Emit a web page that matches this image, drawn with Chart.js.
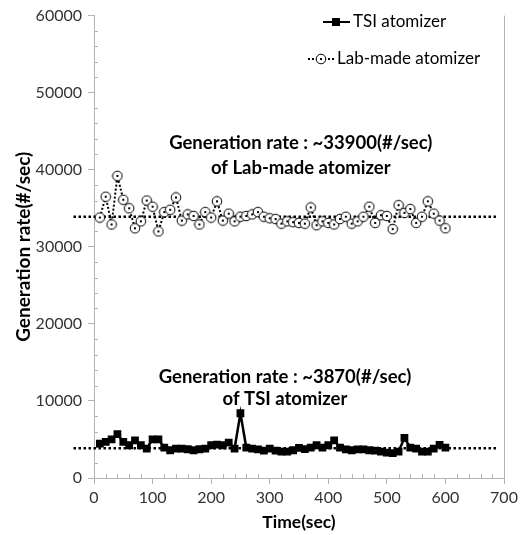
<!DOCTYPE html>
<html>
<head>
<meta charset="utf-8">
<script src="https://cdn.jsdelivr.net/npm/chart.js@4/dist/chart.umd.min.js"></script>
<style>
  body { margin: 0; background: #fff; }
  canvas { display: block; }
</style>
</head>
<body>
<canvas id="grafico" width="526" height="535"></canvas>
<script>
// tiempos de medicion (sec)
const tiempos = [10, 20, 30, 40, 50, 60, 70, 80, 90, 100,
    110, 120, 130, 140, 150, 160, 170, 180, 190, 200,
    210, 220, 230, 240, 250, 260, 270, 280, 290, 300,
    310, 320, 330, 340, 350, 360, 370, 380, 390, 400,
    410, 420, 430, 440, 450, 460, 470, 480, 490, 500,
    510, 520, 530, 540, 550, 560, 570, 580, 590, 600];

const tsiAtomizer = [4460, 4680, 5020, 5700, 4680, 4250, 4890, 4250, 3820, 5020,
    5020, 3950, 3600, 3820, 3820, 3730, 3600, 3730, 3820, 4250,
    4330, 4250, 4590, 3820, 8400, 3950, 3820, 3700, 3560, 3820,
    3560, 3430, 3430, 3600, 3900, 3750, 3950, 4250, 3950, 4250,
    4890, 3950, 3700, 3600, 3700, 3700, 3600, 3560, 3430, 3300,
    3220, 3430, 5200, 3950, 3820, 3430, 3430, 3820, 4300, 3950];

const labAtomizer = [33800, 36500, 32900, 39200, 36100, 35000, 32400, 33300, 36000, 35200,
    32000, 34500, 34800, 36400, 33400, 34200, 34000, 32900, 34500, 33800,
    35900, 33400, 34300, 33300, 33900, 34000, 34200, 34500, 33900, 33700,
    33600, 33000, 33300, 33200, 33100, 33000, 35100, 32800, 33300, 33100,
    32900, 33600, 33900, 33000, 33300, 33900, 35200, 33100, 34100, 34000,
    32300, 35400, 34400, 34900, 33100, 33900, 35900, 34300, 33400, 32400];

// promedios (lineas punteadas)
const promedioLab = 33900;
const promedioTsi = 3870;
const rangoPromedio = [-35, 690];

const ticksY = [0, 10000, 20000, 30000, 40000, 50000, 60000];
const ticksX = [0, 100, 200, 300, 400, 500, 600, 700];

const FUENTE = 'Lato, "Open Sans", sans-serif';
const GRIS = '#b3b3b3';

function puntos(xs, ys) {
    return xs.map(function (x, i) { return { x: x, y: ys[i] }; });
}

// marcador circular con punto central
function marcadorCirculo() {
    const c = document.createElement('canvas');
    c.width = 12; c.height = 12;
    const g = c.getContext('2d');
    g.beginPath();
    g.arc(6, 6, 4.8, 0, Math.PI * 2);
    g.fillStyle = '#fff';
    g.fill();
    g.lineWidth = 1;
    g.strokeStyle = '#000';
    g.stroke();
    g.fillStyle = '#000';
    g.fillRect(5, 5, 2, 2);
    return c;
}
const circulo = marcadorCirculo();

// ticks menores, borde, leyenda y textos
const extras = {
    id: 'extras',
    beforeDatasetsDraw(chart) {
        const ctx = chart.ctx;
        const a = chart.chartArea;
        const sx = chart.scales.x, sy = chart.scales.y;
        ctx.save();
        ctx.strokeStyle = GRIS;
        ctx.lineWidth = 1;
        ctx.beginPath();
        for (let v = 0; v <= 60000; v += 2000) {
            if (v % 10000 === 0) continue;
            const py = Math.round(sy.getPixelForValue(v)) + 0.5;
            ctx.moveTo(a.left, py); ctx.lineTo(a.left + 4, py);
        }
        for (let t = 0; t <= 700; t += 20) {
            if (t % 100 === 0) continue;
            const px = Math.round(sx.getPixelForValue(t)) + 0.5;
            ctx.moveTo(px, a.bottom); ctx.lineTo(px, a.bottom - 4);
        }
        ctx.moveTo(Math.round(a.right) + 0.5, a.bottom);
        ctx.lineTo(Math.round(a.right) + 0.5, a.top);
        ctx.stroke();
        ctx.restore();
    },
    afterDatasetsDraw(chart) {
        const ctx = chart.ctx;
        const sx = chart.scales.x, sy = chart.scales.y;
        ctx.save();
        ctx.fillStyle = '#000';
        ctx.textBaseline = 'middle';

        // leyenda
        ctx.strokeStyle = '#000';
        ctx.lineWidth = 2;
        ctx.beginPath();
        ctx.moveTo(323, 22); ctx.lineTo(350, 22);
        ctx.stroke();
        ctx.fillRect(332, 18, 8, 8);
        ctx.setLineDash([2, 2]);
        ctx.beginPath();
        ctx.moveTo(308, 59); ctx.lineTo(334, 59);
        ctx.stroke();
        ctx.setLineDash([]);
        ctx.drawImage(circulo, 315, 53);
        ctx.font = '17px ' + FUENTE;
        ctx.textAlign = 'left';
        ctx.fillText('TSI atomizer', 353, 22);
        ctx.fillText('Lab-made atomizer', 337, 59);

        // textos de tasa de generacion
        ctx.font = 'bold 18.5px ' + FUENTE;
        ctx.textAlign = 'center';
        ctx.fillText('Generation rate : ~33900(#/sec)', sx.getPixelForValue(353), sy.getPixelForValue(43400));
        ctx.fillText('of Lab-made atomizer', sx.getPixelForValue(353), sy.getPixelForValue(40200));
        ctx.fillText('Generation rate : ~3870(#/sec)', sx.getPixelForValue(326), sy.getPixelForValue(13100));
        ctx.fillText('of TSI atomizer', sx.getPixelForValue(326), sy.getPixelForValue(10300));
        ctx.restore();
    }
};

new Chart(document.getElementById('grafico'), {
    type: 'scatter',
    data: {
        datasets: [
            {
                label: 'TSI atomizer',
                data: puntos(tiempos, tsiAtomizer),
                showLine: true,
                borderColor: '#000',
                backgroundColor: '#000',
                borderWidth: 2.5,
                pointStyle: 'rect',
                pointRadius: 5.5,
                pointBorderWidth: 0
            },
            {
                label: 'Lab-made atomizer',
                data: puntos(tiempos, labAtomizer),
                showLine: true,
                borderColor: '#000',
                borderWidth: 2,
                borderDash: [2, 2],
                pointStyle: circulo
            },
            {
                label: 'promedio lab',
                data: puntos(rangoPromedio, [promedioLab, promedioLab]),
                showLine: true,
                borderColor: '#000',
                borderWidth: 2.5,
                borderDash: [2.5, 2.5],
                pointRadius: 0,
                clip: false
            },
            {
                label: 'promedio tsi',
                data: puntos(rangoPromedio, [promedioTsi, promedioTsi]),
                showLine: true,
                borderColor: '#000',
                borderWidth: 2.5,
                borderDash: [2.5, 2.5],
                pointRadius: 0,
                clip: false
            }
        ]
    },
    options: {
        responsive: false,
        animation: false,
        layout: { padding: { top: 12, right: 22, left: 0, bottom: 0 } },
        plugins: {
            legend: { display: false },
            tooltip: { enabled: false }
        },
        scales: {
            x: {
                type: 'linear',
                min: 0,
                max: 700,
                afterFit: function (s) { s.height = 57; },
                afterBuildTicks: function (s) { s.ticks = ticksX.map(function (v) { return { value: v }; }); },
                grid: { drawOnChartArea: false, color: GRIS, tickLength: 6 },
                border: { color: GRIS },
                ticks: {
                    color: '#333', font: { family: FUENTE, size: 16 }, padding: 4, maxRotation: 0,
                    callback: function (v) { return String(v); }
                },
                title: {
                    display: true,
                    text: 'Time(sec)',
                    color: '#000',
                    font: { family: FUENTE, size: 17.5, weight: 'bold' },
                    padding: { top: 0, bottom: 2 }
                }
            },
            y: {
                type: 'linear',
                min: 0,
                max: 60000,
                afterFit: function (s) { s.width = 94; },
                afterBuildTicks: function (s) { s.ticks = ticksY.map(function (v) { return { value: v }; }); },
                grid: { drawOnChartArea: false, color: GRIS, tickLength: 6 },
                border: { color: GRIS },
                ticks: {
                    color: '#333', font: { family: FUENTE, size: 16 }, padding: 6,
                    callback: function (v) { return String(v); }
                },
                title: {
                    display: true,
                    text: 'Generation rate(#/sec)',
                    color: '#000',
                    font: { family: FUENTE, size: 19, weight: 'bold' },
                    padding: { top: 12, bottom: 0 }
                }
            }
        }
    },
    plugins: [extras]
});
</script>
</body>
</html>
